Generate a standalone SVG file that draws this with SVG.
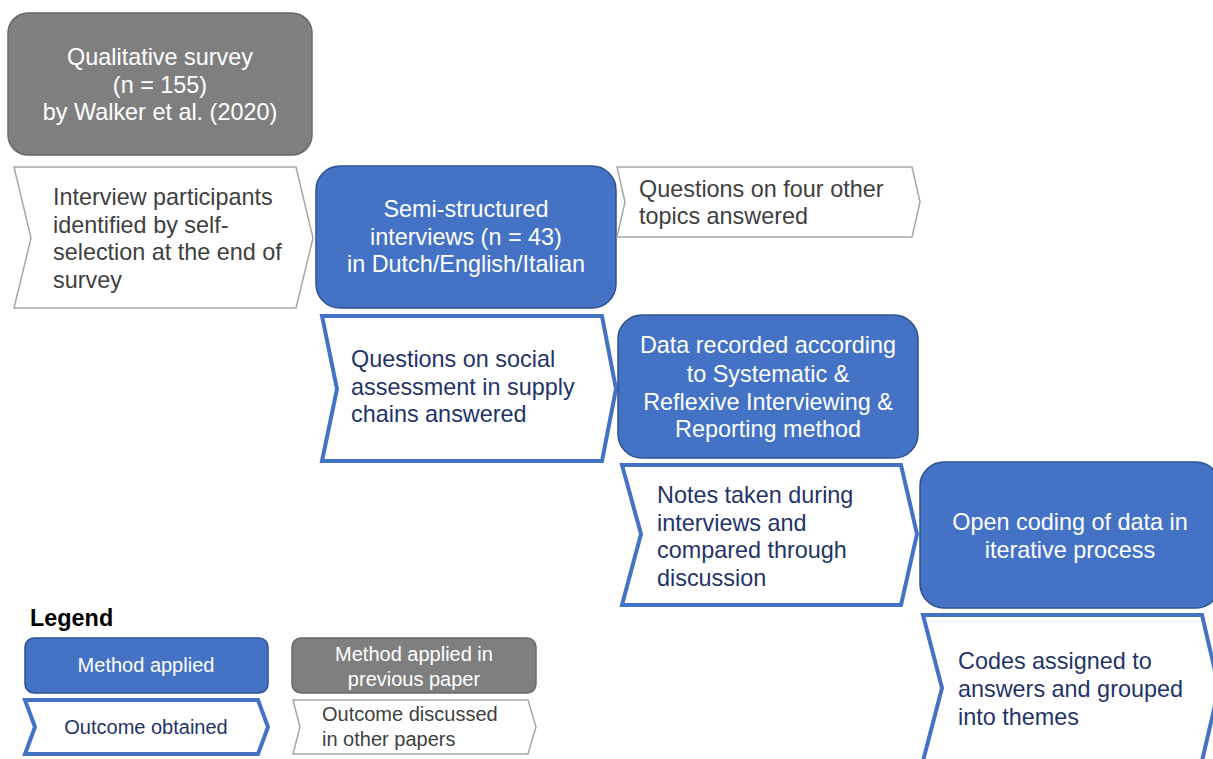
<svg xmlns="http://www.w3.org/2000/svg" width="1213" height="759" viewBox="0 0 1213 759">
<style>
.method{fill:#4472C4;stroke:#2F528F;stroke-width:1.5}
.prev{fill:#7F7F7F;stroke:#6A6A6A;stroke-width:1.5}
.outc{fill:#FFFFFF;stroke:#4472C4;stroke-width:4;stroke-linejoin:miter}
.other{fill:#FFFFFF;stroke:#A6A6A6;stroke-width:1.5}
text{font-family:"Liberation Sans",Arial,sans-serif;font-size:23.4px}
.w{fill:#FFFFFF;text-anchor:middle}
.n{fill:#1F3468}
.g{fill:#404040}
.lg{font-size:20px}
</style>
<rect width="1213" height="759" fill="#FFFFFF"/>

<g id="survey">
<rect class="prev" x="8" y="13" width="304" height="142" rx="20"/>
<text class="w" x="160" y="65">Qualitative survey</text>
<text class="w" x="160" y="93">(n = 155)</text>
<text class="w" x="160" y="120">by Walker et al. (2020)</text>
</g>

<g id="participants">
<polygon class="other" points="14,167 296,167 313,238 296,308 14,308 31,238"/>
<text class="g" x="53" y="205">Interview participants</text>
<text class="g" x="53" y="233">identified by self-</text>
<text class="g" x="53" y="260">selection at the end of</text>
<text class="g" x="53" y="288">survey</text>
</g>

<g id="interviews">
<rect class="method" x="316" y="166" width="300" height="142" rx="24"/>
<text class="w" x="466" y="217">Semi-structured</text>
<text class="w" x="466" y="245">interviews (n = 43)</text>
<text class="w" x="466" y="272">in Dutch/English/Italian</text>
</g>

<g id="fourtopics">
<polygon class="other" points="617,167 912,167 920,202 912,237 617,237 625,202"/>
<text class="g" x="639" y="197">Questions on four other</text>
<text class="g" x="639" y="224">topics answered</text>
</g>

<g id="social">
<polygon class="outc" points="322,316 602,316 616,389 602,461 322,461 337,389"/>
<text class="n" x="351" y="367">Questions on social</text>
<text class="n" x="351" y="395">assessment in supply</text>
<text class="n" x="351" y="422">chains answered</text>
</g>

<g id="recorded">
<rect class="method" x="618" y="315" width="300" height="143" rx="24"/>
<text class="w" x="768" y="353">Data recorded according</text>
<text class="w" x="768" y="382">to Systematic &amp;</text>
<text class="w" x="768" y="410">Reflexive Interviewing &amp;</text>
<text class="w" x="768" y="437">Reporting method</text>
</g>

<g id="notes">
<polygon class="outc" points="622,465 901,465 917,534 901,605 622,605 641,534"/>
<text class="n" x="657" y="503">Notes taken during</text>
<text class="n" x="657" y="531">interviews and</text>
<text class="n" x="657" y="558">compared through</text>
<text class="n" x="657" y="586">discussion</text>
</g>

<g id="coding">
<rect class="method" x="920" y="462" width="300" height="146" rx="24"/>
<text class="w" x="1070" y="530">Open coding of data in</text>
<text class="w" x="1070" y="558">iterative process</text>
</g>

<g id="codes">
<polygon class="outc" points="923,615 1202,615 1219,688 1202,761 923,761 942,688"/>
<text class="n" x="958" y="669">Codes assigned to</text>
<text class="n" x="958" y="697">answers and grouped</text>
<text class="n" x="958" y="725">into themes</text>
</g>

<g id="connectors"></g>

<g id="legend">
<text x="30" y="626" style="font-weight:bold;fill:#000000">Legend</text>
<g id="legend-method">
<rect class="method" x="25" y="638" width="243" height="55" rx="9"/>
<text class="w lg" x="146" y="672">Method applied</text>
</g>
<g id="legend-prev">
<rect class="prev" x="292" y="638" width="244" height="55" rx="9"/>
<text class="w lg" x="414" y="661">Method applied in</text>
<text class="w lg" x="414" y="686">previous paper</text>
</g>
<g id="legend-outcome">
<polygon class="outc" points="25,700 258,700 268,727 258,754 25,754 35,727"/>
<text class="n lg" x="146" y="734" text-anchor="middle">Outcome obtained</text>
</g>
<g id="legend-other">
<polygon class="other" points="293,700 528,700 536,727 528,754 293,754 300,727"/>
<text class="g lg" x="322" y="721">Outcome discussed</text>
<text class="g lg" x="322" y="746">in other papers</text>
</g>
</g>
</svg>
